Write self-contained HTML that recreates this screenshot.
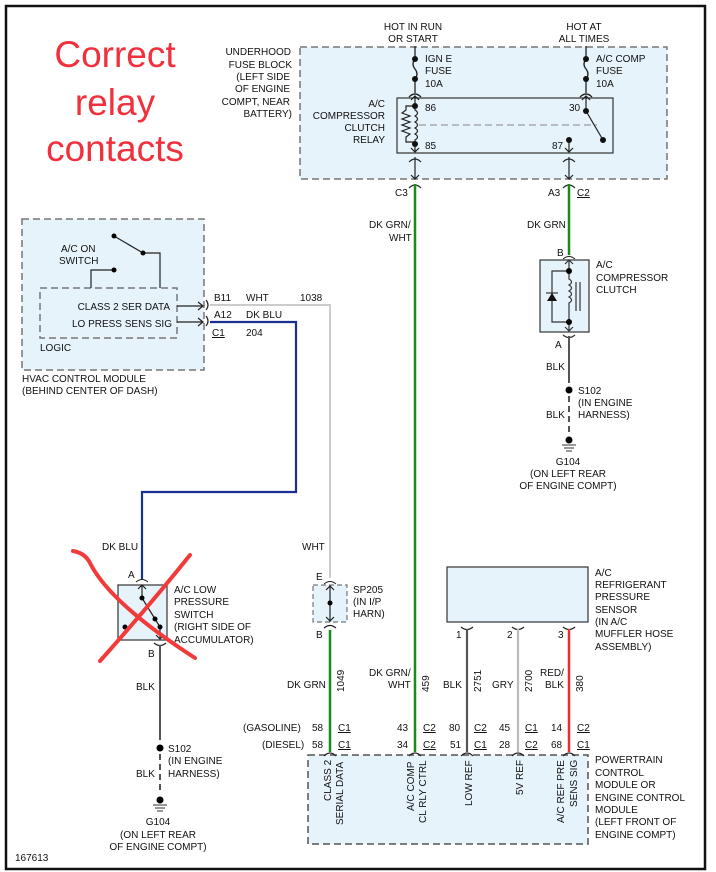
<!DOCTYPE html>
<html><head><meta charset="utf-8"><style>
html,body{margin:0;padding:0;background:#fff}
svg{display:block}
text{font-family:"Liberation Sans",sans-serif;font-size:10px;fill:#111}
</style></head><body>
<svg width="716" height="872" viewBox="0 0 716 872" xmlns="http://www.w3.org/2000/svg">
<rect x="6" y="6" width="699" height="863" fill="#fff" stroke="#111" stroke-width="2.5"/>

<!-- Red annotation -->
<g style="font-size:37px" text-anchor="middle">
<text x="115" y="67" style="font-size:37px;fill:#f0303c">Correct</text>
<text x="115" y="115" style="font-size:37px;fill:#f0303c">relay</text>
<text x="115" y="161" style="font-size:37px;fill:#f0303c">contacts</text>
</g>

<!-- Fuse block -->
<rect x="300" y="47" width="367" height="132" fill="#e6f3fb" stroke="#777" stroke-width="1.5" stroke-dasharray="7,4"/>
<g text-anchor="end">
<text x="291" y="55">UNDERHOOD</text><text x="292" y="68">FUSE BLOCK</text><text x="290" y="80">(LEFT SIDE</text><text x="290" y="92">OF ENGINE</text><text x="290" y="105">COMPT, NEAR</text><text x="292" y="117">BATTERY)</text>
<text x="385" y="107">A/C</text><text x="385" y="119">COMPRESSOR</text><text x="385" y="131">CLUTCH</text><text x="385" y="143">RELAY</text>
</g>
<g text-anchor="middle">
<text x="413" y="30">HOT IN RUN</text><text x="413" y="42">OR START</text>
<text x="584" y="30">HOT AT</text><text x="584" y="42">ALL TIMES</text>
</g>
<text x="425" y="62">IGN E</text><text x="425" y="74">FUSE</text><text x="425" y="87">10A</text>
<text x="596" y="62">A/C COMP</text><text x="596" y="74">FUSE</text><text x="596" y="87">10A</text>

<g stroke="#222" stroke-width="1.3" fill="none">
<line x1="415" y1="46" x2="415" y2="59"/><path d="M415 59 q-4 5 0 10 q4 5 0 10"/><line x1="415" y1="79" x2="415" y2="93"/>
<path d="M409 97 q6 -6 12 0"/>
<line x1="586" y1="46" x2="586" y2="59"/><path d="M586 59 q-4 5 0 10 q4 5 0 10"/><line x1="586" y1="79" x2="586" y2="93"/>
<path d="M580 97 q6 -6 12 0"/>
</g>
<rect x="397" y="98" width="216" height="55" fill="#e6f3fb" stroke="#333" stroke-width="1.2"/>
<g stroke="#222" stroke-width="1.2" fill="none">
<path d="M411 100 l4 -4 l4 4 M415 96 v10"/>
<path d="M415 106 v4 q5 3 0 6 q5 3 0 6 q5 3 0 6 q5 3 0 6 q5 3 0 6 v4"/>
<path d="M415 106 h-9 v4 l-4 3 l8 3 l-8 3 l8 3 l-8 3 l8 3 l-8 3 l8 3 l-4 3 v5 h9"/>
<path d="M415 144 v8 M411 148 l4 4 l4 -4"/>
<path d="M586 111 v-15 M582 100 l4 -4 l4 4"/>
<line x1="586" y1="111" x2="603" y2="140"/>
<path d="M569 140 v12 M565 148 l4 4 l4 -4"/>
<path d="M409 162 q6 -6 12 0 M415 157 v22 M411 175 l4 4 l4 -4 M409 188 q6 -6 12 0"/>
<path d="M563 162 q6 -6 12 0 M569 157 v22 M565 175 l4 4 l4 -4 M563 188 q6 -6 12 0"/>
</g>
<line x1="419" y1="125" x2="597" y2="125" stroke="#aaa" stroke-width="1.5" stroke-dasharray="7,4"/>
<g fill="#111"><circle cx="415" cy="106" r="3"/><circle cx="415" cy="144" r="3"/><circle cx="586" cy="111" r="3"/><circle cx="603" cy="140" r="3"/><circle cx="569" cy="140" r="3"/><circle cx="415" cy="59" r="3"/><circle cx="415" cy="79" r="3"/><circle cx="586" cy="59" r="3"/><circle cx="586" cy="79" r="3"/></g>
<text x="425" y="111">86</text><text x="425" y="149">85</text><text x="569" y="111">30</text><text x="552" y="149">87</text>
<text x="395" y="196">C3</text><text x="548" y="196">A3</text><text x="577" y="196" text-decoration="underline">C2</text>

<!-- Green main wires -->
<line x1="415" y1="184" x2="415" y2="752" stroke="#1a8a1a" stroke-width="2.5"/>
<line x1="569" y1="184" x2="569" y2="255" stroke="#1a8a1a" stroke-width="2.5"/>
<text x="369" y="228">DK GRN/</text><text x="389" y="241">WHT</text>
<text x="527" y="228">DK GRN</text>

<!-- Compressor clutch -->
<text x="557" y="256">B</text>
<path d="M563 259 q6 -5 12 0" stroke="#222" fill="none"/>
<rect x="540" y="260" width="49" height="72" fill="#e6f3fb" stroke="#333" stroke-width="1.2"/>
<g stroke="#333" stroke-width="1.2" fill="none">
<path d="M569 260 v11 M565 264 l4 -4 l4 4"/>
<path d="M569 271 v8 q5 3 0 6 q5 3 0 6 q5 3 0 6 q5 3 0 6 v19"/>
<path d="M569 271 h-17 v51 h17"/><path d="M569 322 v9 M565 327 l4 4 l4 -4"/>
<line x1="576" y1="282" x2="576" y2="311"/><line x1="580" y1="282" x2="580" y2="311"/>
<path d="M563 335 q6 5 12 0"/>
</g>
<path d="M547 301 h10 l-5 -8 z" fill="#111"/><line x1="546" y1="293" x2="558" y2="293" stroke="#111"/>
<circle cx="569" cy="271" r="3"/><circle cx="569" cy="322" r="3"/>
<text x="596" y="268">A/C</text><text x="596" y="281">COMPRESSOR</text><text x="596" y="293">CLUTCH</text>
<text x="555" y="348">A</text>
<line x1="569" y1="336" x2="569" y2="383" stroke="#555" stroke-width="2"/>
<text x="546" y="370">BLK</text>
<circle cx="569" cy="390" r="3.5"/><text x="578" y="394">S102</text><text x="578" y="406">(IN ENGINE</text><text x="578" y="418">HARNESS)</text>
<line x1="569" y1="396" x2="569" y2="436" stroke="#555" stroke-width="2" stroke-dasharray="6,4"/>
<text x="546" y="418">BLK</text>
<circle cx="569" cy="440" r="3.5"/><path d="M562 445 h14 M564 448 h10 M566 451 h6" stroke="#333"/>
<g text-anchor="middle"><text x="568" y="465">G104</text><text x="568" y="477">(ON LEFT REAR</text><text x="568" y="489">OF ENGINE COMPT)</text></g>

<!-- HVAC module -->
<rect x="22" y="219" width="182" height="151" fill="#e6f3fb" stroke="#777" stroke-width="1.5" stroke-dasharray="7,4"/>
<rect x="40" y="288" width="137" height="50" fill="none" stroke="#777" stroke-width="1.5" stroke-dasharray="7,4"/>
<text x="61" y="252">A/C ON</text><text x="59" y="264">SWITCH</text>
<g stroke="#222" stroke-width="1.2" fill="none">
<line x1="114" y1="236" x2="143" y2="253"/><path d="M143 253 h17 v35"/><path d="M114 270 h-23 v18"/>
<path d="M177 306 h26 M198 302 l5 4 l-5 4 M177 322 h26 M198 318 l5 4 l-5 4"/>
<path d="M206 300 q4 5 0 10 M206 316 q4 5 0 10"/>
</g>
<circle cx="114" cy="236" r="2.5"/><circle cx="143" cy="253" r="2.5"/><circle cx="114" cy="270" r="2.5"/>
<text x="170" y="310" text-anchor="end">CLASS 2 SER DATA</text>
<text x="172" y="327" text-anchor="end">LO PRESS SENS SIG</text>
<text x="40" y="351">LOGIC</text>
<text x="22" y="382">HVAC CONTROL MODULE</text><text x="22" y="394">(BEHIND CENTER OF DASH)</text>
<text x="214" y="301">B11</text><text x="246" y="301">WHT</text><text x="300" y="301">1038</text>
<text x="214" y="318">A12</text><text x="246" y="318">DK BLU</text>
<text x="212" y="336" text-decoration="underline">C1</text><text x="246" y="336">204</text>

<polyline points="210,305 330,305 330,578" fill="none" stroke="#ccc" stroke-width="2"/>
<polyline points="210,322 296,322 296,492 142,492 142,579" fill="none" stroke="#1a2f8f" stroke-width="2.2"/>
<text x="102" y="550">DK BLU</text>
<text x="302" y="550">WHT</text>

<!-- Low pressure switch -->
<text x="128" y="578">A</text>
<path d="M136 582 q6 -5 12 0" stroke="#222" fill="none"/>
<rect x="118" y="585" width="49" height="55" fill="#e6f3fb" stroke="#333" stroke-width="1.2"/>
<g stroke="#222" stroke-width="1.2" fill="none">
<path d="M142 585 v13 M138 589 l4 -4 l4 4"/><line x1="142" y1="598" x2="160" y2="627"/><path d="M160 627 v12 M156 635 l4 4 l4 -4"/>
<path d="M154 643 q6 5 12 0"/>
</g>
<circle cx="142" cy="598" r="2.5"/><circle cx="155" cy="619" r="2.5"/><circle cx="160" cy="627" r="2.5"/><circle cx="125" cy="627" r="2.5"/>
<text x="174" y="593">A/C LOW</text><text x="174" y="605">PRESSURE</text><text x="174" y="618">SWITCH</text><text x="174" y="630">(RIGHT SIDE OF</text><text x="174" y="643">ACCUMULATOR)</text>
<text x="148" y="657">B</text>
<line x1="160" y1="645" x2="160" y2="740" stroke="#555" stroke-width="2"/>
<text x="136" y="690">BLK</text>
<circle cx="160" cy="748" r="3.5"/><text x="168" y="752">S102</text><text x="168" y="764">(IN ENGINE</text><text x="168" y="777">HARNESS)</text>
<line x1="160" y1="754" x2="160" y2="794" stroke="#555" stroke-width="2" stroke-dasharray="6,4"/>
<text x="136" y="777">BLK</text>
<circle cx="160" cy="800" r="3.5"/><path d="M153 805 h14 M155 808 h10 M157 811 h6" stroke="#333"/>
<g text-anchor="middle"><text x="158" y="825">G104</text><text x="158" y="838">(ON LEFT REAR</text><text x="158" y="850">OF ENGINE COMPT)</text></g>
<text x="15" y="861">167613</text>
<g stroke="#f33a3a" stroke-width="4" fill="none" stroke-linecap="round">
<path d="M73 551 q12 2 17 12 q20 40 105 95"/>
<path d="M190 555 q-40 50 -90 106"/>
</g>

<!-- SP205 -->
<text x="316" y="580">E</text>
<path d="M324 584 q6 -5 12 0" stroke="#222" fill="none"/>
<rect x="313" y="585" width="34" height="37" fill="#e6f3fb" stroke="#777" stroke-width="1.2" stroke-dasharray="5,3"/>
<g stroke="#222" stroke-width="1.2" fill="none"><path d="M330 585 v37 M326 590 l4 -4 l4 4 M326 617 l4 4 l4 -4 M324 628 q6 -5 12 0"/></g>
<circle cx="330" cy="603" r="2.5"/>
<text x="353" y="593">SP205</text><text x="353" y="605">(IN I/P</text><text x="353" y="617">HARN)</text>
<text x="316" y="638">B</text>
<line x1="330" y1="630" x2="330" y2="752" stroke="#1a8a1a" stroke-width="2.5"/>

<!-- Sensor -->
<rect x="447" y="567" width="141" height="55" fill="#e6f3fb" stroke="#333" stroke-width="1.2"/>
<text x="595" y="576">A/C</text><text x="595" y="588">REFRIGERANT</text><text x="595" y="600">PRESSURE</text><text x="595" y="613">SENSOR</text><text x="595" y="625">(IN A/C</text><text x="595" y="637">MUFFLER HOSE</text><text x="595" y="650">ASSEMBLY)</text>
<g stroke="#222" stroke-width="1.2" fill="none"><path d="M461 627 q6 5 12 0 M512 627 q6 5 12 0 M563 627 q6 5 12 0"/></g>
<text x="456" y="638">1</text><text x="507" y="638">2</text><text x="558" y="638">3</text>
<line x1="467" y1="629" x2="467" y2="752" stroke="#555" stroke-width="2.2"/>
<line x1="518" y1="629" x2="518" y2="752" stroke="#bbb" stroke-width="2.2"/>
<line x1="569" y1="629" x2="569" y2="752" stroke="#e8302a" stroke-width="2.5"/>

<!-- wire labels -->
<text x="287" y="688">DK GRN</text>
<text x="369" y="676">DK GRN/</text><text x="388" y="688">WHT</text>
<text x="443" y="688">BLK</text><text x="492" y="688">GRY</text>
<text x="540" y="676">RED/</text><text x="545" y="688">BLK</text>
<g>
<text transform="translate(344,692) rotate(-90)">1049</text>
<text transform="translate(429,692) rotate(-90)">459</text>
<text transform="translate(481,692) rotate(-90)">2751</text>
<text transform="translate(532,692) rotate(-90)">2700</text>
<text transform="translate(583,692) rotate(-90)">380</text>
</g>
<text x="243" y="731">(GASOLINE)</text><text x="262" y="748">(DIESEL)</text>
<text x="312" y="731">58</text><text x="312" y="748">58</text>
<text x="338" y="731" text-decoration="underline">C1</text><text x="338" y="748" text-decoration="underline">C1</text>
<text x="397" y="731">43</text><text x="397" y="748">34</text>
<text x="423" y="731" text-decoration="underline">C2</text><text x="423" y="748" text-decoration="underline">C2</text>
<text x="449" y="731">80</text><text x="450" y="748">51</text>
<text x="474" y="731" text-decoration="underline">C2</text><text x="474" y="748" text-decoration="underline">C1</text>
<text x="499" y="731">45</text><text x="499" y="748">28</text>
<text x="525" y="731" text-decoration="underline">C1</text><text x="525" y="748" text-decoration="underline">C2</text>
<text x="551" y="731">14</text><text x="551" y="748">68</text>
<text x="577" y="731" text-decoration="underline">C2</text><text x="577" y="748" text-decoration="underline">C1</text>

<!-- PCM -->
<rect x="308" y="755" width="280" height="89" fill="#e6f3fb" stroke="#555" stroke-width="1.5" stroke-dasharray="7,4"/>
<g stroke="#222" stroke-width="1.2" fill="none"><path d="M324 756 q6 -6 12 0 M409 756 q6 -6 12 0 M461 756 q6 -6 12 0 M512 756 q6 -6 12 0 M563 756 q6 -6 12 0"/></g>
<g>
<text transform="translate(331,801) rotate(-90)">CLASS 2</text>
<text transform="translate(343,825) rotate(-90)">SERIAL DATA</text>
<text transform="translate(414,811) rotate(-90)">A/C COMP</text>
<text transform="translate(426,823) rotate(-90)">CL RLY CTRL</text>
<text transform="translate(472,806) rotate(-90)">LOW REF</text>
<text transform="translate(523,795) rotate(-90)">5V REF</text>
<text transform="translate(564,823) rotate(-90)">A/C REF PRE</text>
<text transform="translate(577,807) rotate(-90)">SENS SIG</text>
</g>
<text x="595" y="763">POWERTRAIN</text><text x="595" y="776">CONTROL</text><text x="595" y="788">MODULE OR</text><text x="595" y="801">ENGINE CONTROL</text><text x="595" y="813">MODULE</text><text x="595" y="825">(LEFT FRONT OF</text><text x="595" y="838">ENGINE COMPT)</text>
</svg>
</body></html>
